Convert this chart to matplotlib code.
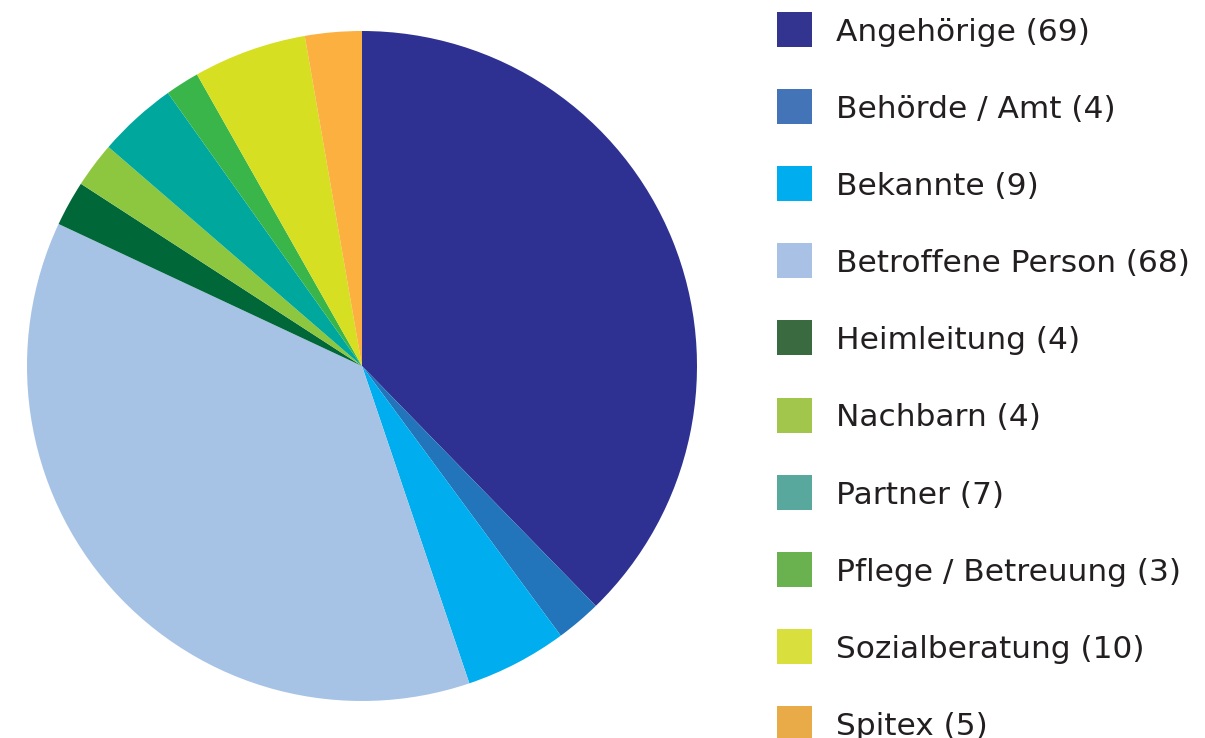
import matplotlib
matplotlib.use("Agg")
import matplotlib.pyplot as plt
from matplotlib.patches import Rectangle

# categories and counts
labels = ["Angehörige", "Behörde / Amt", "Bekannte", "Betroffene Person", "Heimleitung",
          "Nachbarn", "Partner", "Pflege / Betreuung", "Sozialberatung", "Spitex"]
counts = [69, 4, 9, 68, 4, 4, 7, 3, 10, 5]

pie_colors = ["#2e3192", "#2274bb", "#00aeef", "#a6c3e6", "#006838",
              "#8dc63f", "#00a79d", "#39b54a", "#d7df23", "#fbb040"]
legend_colors = ["#32348f", "#4374b7", "#00aeef", "#a9c1e4", "#3a6b40",
                 "#a2c64c", "#58a89e", "#6ab250", "#d9df3d", "#e8ab48"]

W, H = 1205, 738
fig = plt.figure(figsize=(W / 100, H / 100), dpi=100)
ax = fig.add_axes([0, 0, 1, 1])

ax.pie(counts, colors=pie_colors, startangle=90, counterclock=False,
       center=(362, H - 366), radius=335, frame=True,
       wedgeprops=dict(linewidth=0))
ax.set_xlim(0, W)
ax.set_ylim(0, H)
ax.set_aspect("equal")
ax.axis("off")

# legend on the right
for i, (lab, n, c) in enumerate(zip(labels, counts, legend_colors)):
    yc = H - (30 + i * 77.1)
    ax.add_patch(Rectangle((777, yc - 17), 35, 35, color=c, lw=0))
    ax.text(836, yc - 11, f"{lab} ({n})", fontsize=22.5, family="DejaVu Sans",
            color="#231f20", va="baseline", ha="left")

fig.savefig("out.png", dpi=100)
